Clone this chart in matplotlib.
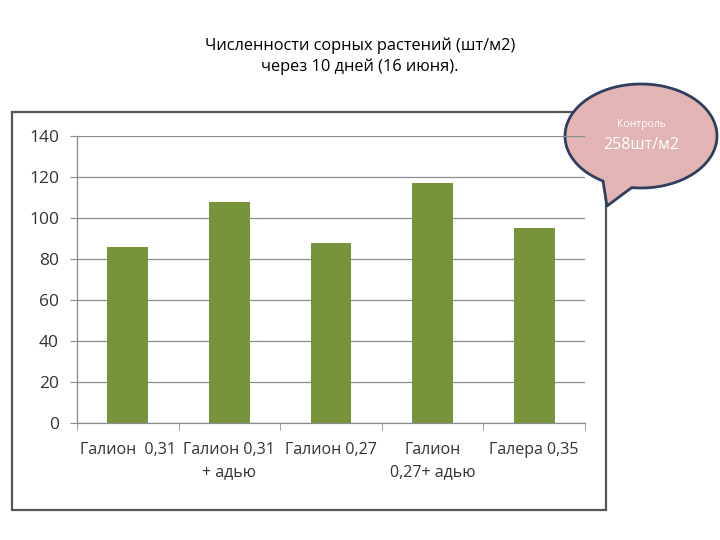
import numpy as np
import matplotlib
matplotlib.use("Agg")
import matplotlib.pyplot as plt
from matplotlib.patches import Rectangle, PathPatch
from matplotlib.path import Path

plt.rcParams.update({
    "font.family": ["Open Sans", "DejaVu Sans"],
    "axes.unicode_minus": False,
})

categories = ["Галион  0,31", "Галион 0,31\n+ адью", "Галион 0,27",
              "Галион\n0,27+ адью", "Галера 0,35"]
values = [86, 108, 88, 117, 95]
yticks = [0, 20, 40, 60, 80, 100, 120, 140]
title = "Численности сорных растений (шт/м2)\nчерез 10 дней (16 июня)."
bubble_lines = ["Контроль", "258шт/м2"]

W, H = 720, 540
fig = plt.figure(figsize=(W / 100, H / 100), dpi=100)

# pixel overlay for frame, title and callout
ov = fig.add_axes([0, 0, 1, 1], zorder=0)
ov.set_xlim(0, W); ov.set_ylim(H, 0); ov.axis("off")
ov.add_patch(Rectangle((12, 112), 594, 398, fill=False, ec="#555555", lw=1.6))
ov.text(360, 56, title, ha="center", va="center", fontsize=11.8,
        linespacing=1.35, color="black")

ax = fig.add_axes([77 / W, 1 - 423 / H, (585 - 77) / W, (423 - 136) / H], zorder=1)
ax.patch.set_alpha(0)
x = np.arange(len(values))
ax.bar(x, values, width=0.4, color="#77933c", zorder=2)
ax.set_xlim(-0.5, len(values) - 0.5)
ax.set_ylim(0, 140)
ax.set_yticks(yticks)
ax.yaxis.grid(True, color="#8c8c8c", lw=0.9)
ax.set_axisbelow(True)
for s in ["top", "right"]:
    ax.spines[s].set_visible(False)
for s in ["left", "bottom"]:
    ax.spines[s].set_color("#8c8c8c")
    ax.spines[s].set_linewidth(0.9)
ax.tick_params(axis="y", length=5, color="#8c8c8c", labelsize=12.5,
               labelcolor="#333333", pad=8)
ax.set_xticks(x)
ax.set_xticklabels(categories, fontsize=11.5, color="#333333", linespacing=1.5)
ax.tick_params(axis="x", length=0, pad=14)
ax.set_xticks(np.arange(-0.5, len(values)), minor=True)
ax.tick_params(axis="x", which="minor", length=5, color="#8c8c8c")

# speech bubble callout (screen y points down, so 90 deg is the bottom)
cx, cy, rx, ry = 641, 136, 76, 52
th = np.deg2rad(np.linspace(120, 457, 240))
pts = [(cx + rx * np.cos(t), cy + ry * np.sin(t)) for t in th]
pts.append((607, 206))
pts.append(pts[0])
codes = [Path.MOVETO] + [Path.LINETO] * (len(pts) - 2) + [Path.CLOSEPOLY]
ov.add_patch(PathPatch(Path(pts, codes), fc="#e2b4b3", ec="#2f3e5e", lw=2.0,
                       joinstyle="round", zorder=3))
ov.text(641, 124, bubble_lines[0], ha="center", va="center", fontsize=7.5,
        color="white", zorder=4)
ov.text(641, 145, bubble_lines[1], ha="center", va="center", fontsize=11.5,
        color="white", zorder=4)

fig.savefig("out.png", dpi=100)
